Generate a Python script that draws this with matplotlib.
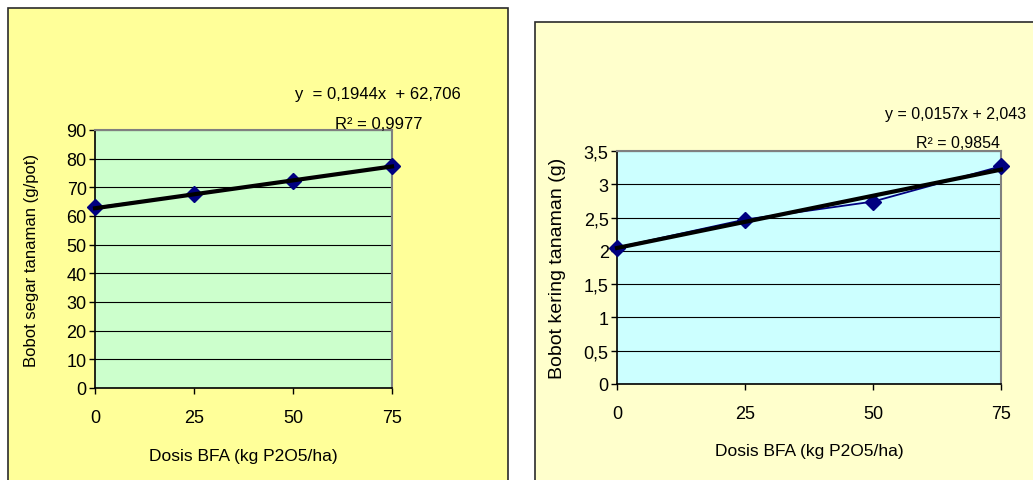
"""Two-panel chart: fresh and dry plant weight against BFA dose, with linear trendlines."""

import matplotlib.pyplot as plt
from matplotlib.patches import Rectangle

# --- data ---
dosis = [0, 25, 50, 75]
bobot_segar = [63.0, 67.6, 72.3, 77.4]
bobot_kering = [2.05, 2.47, 2.74, 3.27]

# trendline coefficients as printed on the chart
segar_slope, segar_intercept, segar_r2 = 0.1944, 62.706, "0,9977"
kering_slope, kering_intercept, kering_r2 = 0.0157, 2.043, "0,9854"

segar_yticks = [0, 10, 20, 30, 40, 50, 60, 70, 80, 90]
kering_yticks = [0, 0.5, 1, 1.5, 2, 2.5, 3, 3.5]
kering_ylabels = ["0", "0,5", "1", "1,5", "2", "2,5", "3", "3,5"]

W, H = 1033, 481
NARROW = ["Liberation Sans Narrow", "Liberation Sans", "DejaVu Sans"]
REGULAR = ["Liberation Sans", "DejaVu Sans"]

fig = plt.figure(figsize=(W / 100, H / 100), dpi=100)
fig.patch.set_facecolor("white")


def px_rect(x0, y0, x1, y1):
    # pixel box (top-left origin) -> figure fraction [left, bottom, width, height]
    return [x0 / W, 1 - y1 / H, (x1 - x0) / W, (y1 - y0) / H]


# chart frames
for (x0, y0, x1, y1), fc in [((8, 9, 508, 490), "#FFFF99"), ((535, 23, 1045, 490), "#FFFFCC")]:
    l, b, w, h = px_rect(x0, y0, x1, y1)
    fig.patches.append(Rectangle((l, b), w, h, transform=fig.transFigure,
                                 facecolor=fc, edgecolor="#2b2b2b", linewidth=1.2, zorder=-5))


def style_axes(ax, bg, yticks, ylabels, ylim, ylabel, ylabel_size, ylabelpad, xlabelpad):
    ax.set_facecolor(bg)
    ax.set_xlim(0, 75)
    ax.set_ylim(*ylim)
    ax.set_xticks(dosis)
    ax.set_xticklabels([str(d) for d in dosis], fontsize=13, family=REGULAR)
    ax.set_yticks(yticks)
    ax.set_yticklabels(ylabels, fontsize=13, family=REGULAR)
    ax.tick_params(axis="x", direction="out", length=4, width=1, pad=11, color="black")
    ax.tick_params(axis="y", direction="out", length=4, width=1, pad=2, color="black")
    for side in ("top", "right"):
        ax.spines[side].set_color("#808080")
        ax.spines[side].set_linewidth(1.5)
    for side in ("left", "bottom"):
        ax.spines[side].set_color("black")
        ax.spines[side].set_linewidth(1.2)
    ax.grid(axis="y", color="black", linewidth=0.8)
    ax.set_axisbelow(True)
    ax.set_ylabel(ylabel, fontsize=ylabel_size, family=REGULAR, labelpad=ylabelpad)
    ax.set_xlabel("Dosis BFA (kg P2O5/ha)", fontsize=12.5, family=NARROW, labelpad=xlabelpad)


def draw_series(ax, y, slope, intercept):
    ax.plot(dosis, y, color="#000080", linewidth=1.3, marker="D", markersize=8.5,
            markerfacecolor="#000080", markeredgecolor="#000080", zorder=3, clip_on=False)
    x_line = [dosis[0], dosis[-1]]
    ax.plot(x_line, [slope * x + intercept for x in x_line], color="black",
            linewidth=3, zorder=4, clip_on=False)


# --- left panel ---
ax1 = fig.add_axes(px_rect(95, 131, 392, 389))
style_axes(ax1, "#CCFFCC", segar_yticks, [str(t) for t in segar_yticks], (0, 90),
           "Bobot segar tanaman (g/pot)", 12, 20, 16)
draw_series(ax1, bobot_segar, segar_slope, segar_intercept)
fig.text(378 / W, 1 - 94 / H, "y  = 0,1944x  + 62,706", ha="center", va="center",
         fontsize=12, family=NARROW)
fig.text(379 / W, 1 - 125 / H, f"R² = {segar_r2}", ha="center", va="center",
         fontsize=12, family=NARROW)

# --- right panel ---
ax2 = fig.add_axes(px_rect(617, 152, 1001, 385))
style_axes(ax2, "#CCFFFF", kering_yticks, kering_ylabels, (0, 3.5),
           "Bobot kering tanaman (g)", 14, 13, 15)
draw_series(ax2, bobot_kering, kering_slope, kering_intercept)
fig.text(956 / W, 1 - 115 / H, "y = 0,0157x + 2,043", ha="center", va="center",
         fontsize=11.5, family=NARROW)
fig.text(958 / W, 1 - 144 / H, f"R² = {kering_r2}", ha="center", va="center",
         fontsize=11.5, family=NARROW)

fig.savefig("out.png", dpi=100)
